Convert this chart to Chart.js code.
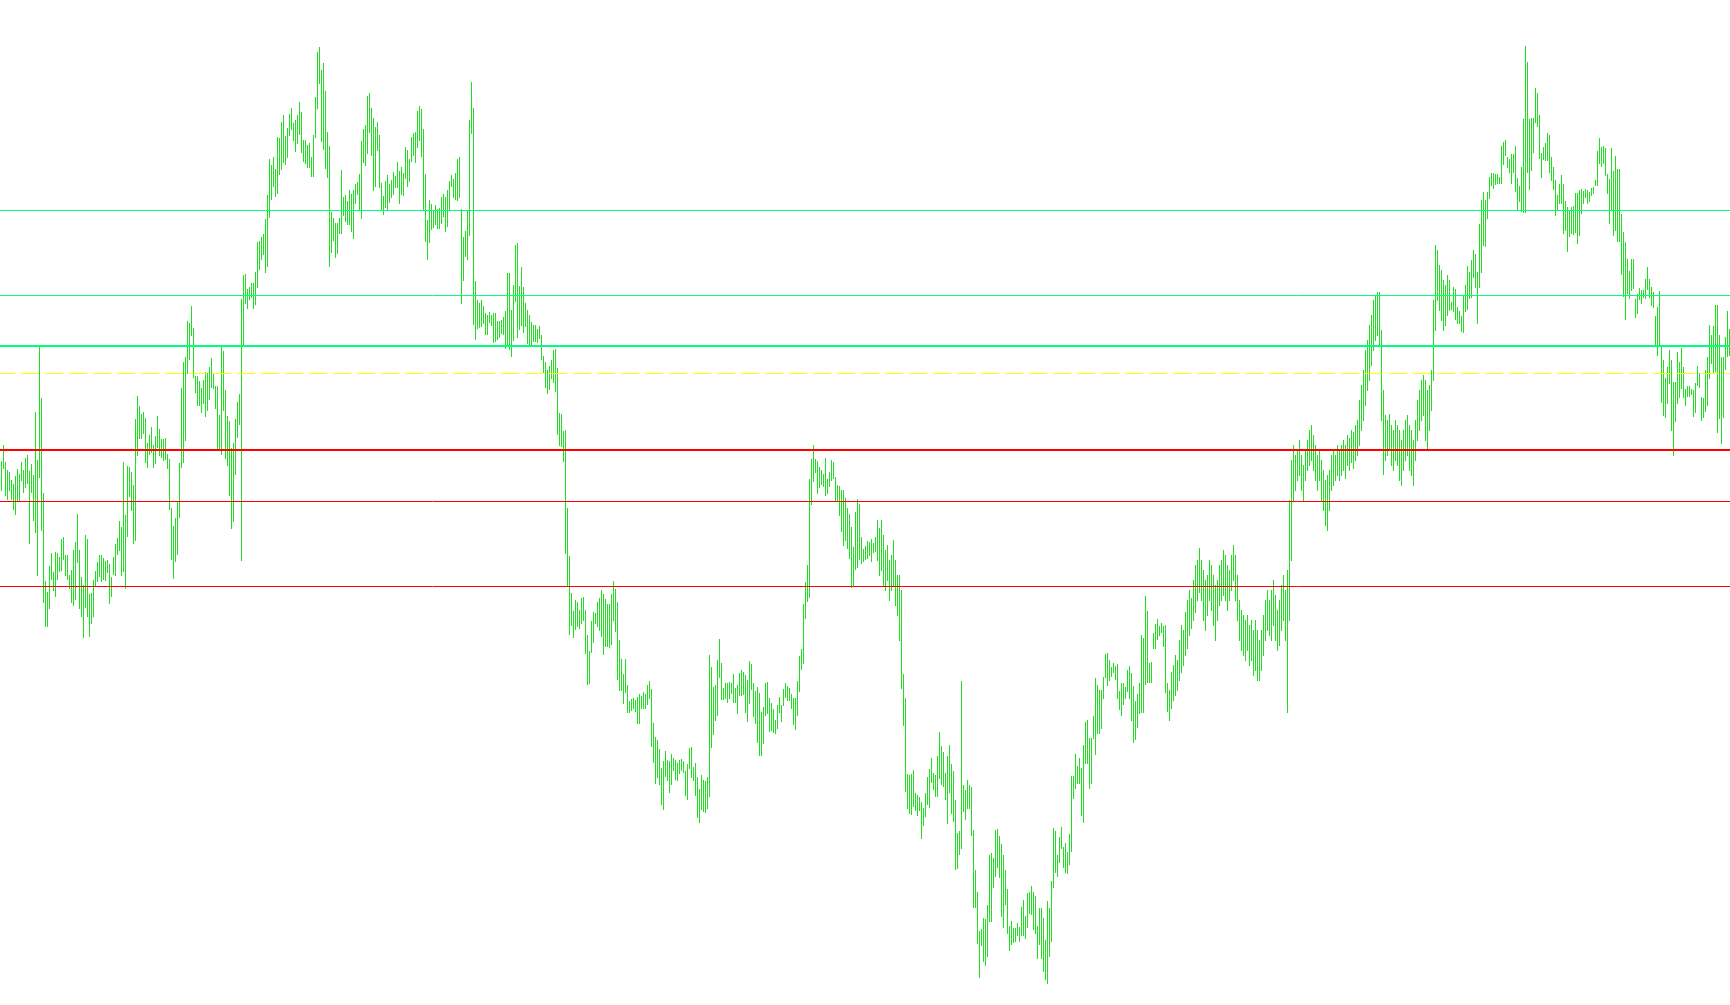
<!DOCTYPE html>
<html>
<head>
<meta charset="utf-8">
<title>Price bars with levels</title>
<script src="https://cdn.jsdelivr.net/npm/chart.js@4.4.1/dist/chart.umd.min.js"></script>
<style>
html,body{margin:0;padding:0;background:#ffffff;overflow:hidden}
#wrap{width:1730px;height:1005px;position:relative}
</style>
</head>
<body>
<div id="wrap"><canvas id="chart"></canvas></div>
<script>
// Bar highs (price points), one per bar
const highs = [
539,555,538,530,528,520,516,524,531,526,
538,530,542,545,529,536,525,588,540,653,
602,507,419,408,434,447,428,448,447,443,
461,463,445,445,425,430,450,458,486,450,
423,415,465,461,406,407,420,429,438,445,
445,442,439,440,436,423,443,456,462,479,
473,538,485,534,533,528,515,581,604,594,
586,588,582,557,565,573,555,564,584,571,
561,561,562,546,541,492,474,482,499,537,
612,638,643,679,677,694,672,624,624,619,
612,620,628,627,633,642,626,614,614,585,
653,649,610,584,579,552,557,581,598,606,
701,725,726,711,713,717,717,728,758,759,
763,766,781,805,841,835,843,831,863,862,
878,885,864,872,886,892,877,880,885,898,
888,860,860,855,857,843,865,903,948,953,
930,937,909,868,854,788,782,777,777,782,
830,803,805,799,810,806,810,816,818,826,
859,871,875,904,907,892,882,873,878,865,
817,804,819,825,816,820,828,824,838,829,
833,827,853,850,841,863,867,868,889,894,
891,871,826,780,800,796,790,795,791,792,
803,806,803,810,819,825,821,827,841,843,
791,763,769,790,880,918,892,719,700,697,
700,694,687,685,688,685,687,687,679,679,
680,683,689,727,727,690,715,755,757,714,
733,713,697,690,685,678,675,675,671,674,
665,644,638,630,634,640,650,651,632,587,
586,569,570,492,444,407,389,400,398,390,
402,403,390,365,349,379,388,387,398,402,
410,406,401,396,396,406,419,411,398,360,
341,326,341,315,299,301,302,300,303,306,
304,308,306,315,319,311,277,263,260,251,
232,239,249,240,239,246,242,240,237,240,
241,239,229,236,252,253,233,237,223,211,
225,220,219,223,345,333,313,315,340,361,
337,312,317,317,318,317,326,312,315,327,
330,328,325,320,339,336,317,309,313,307,
288,293,317,318,302,297,291,280,295,303,
295,311,317,314,312,306,302,302,319,344,
351,396,418,435,521,541,555,541,539,533,
530,526,542,521,528,540,538,523,515,514,
510,510,502,492,486,473,453,488,501,496,
463,451,454,459,458,461,457,463,480,472,
480,465,450,455,440,445,460,440,425,425,
410,326,302,226,225,226,230,207,205,203,
198,192,207,223,231,242,227,225,244,268,
254,248,227,244,255,236,229,200,167,169,
319,215,210,220,215,213,170,130,108,69,
71,82,81,95,145,147,142,170,171,164,
156,145,130,111,74,79,72,72,77,73,
93,100,84,107,108,114,108,104,74,92,
92,82,60,99,92,119,172,169,145,163,
173,153,157,148,166,224,224,246,234,242,
232,255,278,280,262,262,284,322,315,310,
310,323,346,347,340,333,337,334,336,309,
317,317,313,330,334,327,314,299,306,317,
365,362,404,389,337,338,367,376,381,374,
377,374,375,317,310,328,335,345,340,360,
375,370,388,400,410,402,420,435,440,452,
440,430,420,425,440,435,425,415,420,435,
440,450,445,435,430,445,455,445,425,400,
390,385,380,385,375,380,370,380,370,360,
370,385,400,410,400,410,420,405,390,400,
415,425,410,430,500,540,555,545,550,560,
545,535,550,560,570,575,565,555,545,550,
540,530,520,525,530,545,550,545,555,550,
555,560,555,565,562,570,568,575,580,600,
615,630,650,660,675,685,700,705,708,708,
670,610,585,580,586,575,570,580,575,570,
560,570,580,585,575,570,560,580,600,610,
620,625,620,610,615,630,700,755,750,735,
730,720,715,725,720,698,713,711,693,689,
684,705,715,734,728,740,750,746,728,776,
800,808,800,808,823,827,827,826,826,823,
854,858,860,843,841,846,846,854,822,814,
833,881,954,938,881,882,882,912,907,885,
847,853,857,867,865,843,833,820,805,816,
825,816,799,793,789,793,794,807,807,810,
811,809,811,810,808,812,813,820,849,862,
853,854,852,826,821,852,829,844,831,831,
786,768,758,741,729,741,741,701,706,712,
710,710,721,733,721,713,708,684,693,709,
655,640,622,633,650,640,618,618,648,638,
652,633,611,614,614,611,610,617,634,627,
603,602,630,643,675,665,674,695,695,665,
643,643,663,689,671
];

// Bar lows (price points), one per bar
const lows = [
509,531,504,500,509,500,490,485,498,498,
519,507,512,516,456,507,479,467,424,522,
469,397,373,373,391,420,409,403,420,428,
429,440,424,420,411,397,394,400,437,391,
383,362,392,383,363,376,383,414,418,423,
418,420,419,427,396,403,425,424,445,449,
424,428,411,463,503,489,456,459,544,561,
561,566,537,532,545,547,532,536,552,544,
542,539,540,531,490,440,421,438,445,482,
532,537,559,626,640,664,622,607,594,594,
587,596,583,589,600,612,611,591,550,550,
545,589,541,534,504,471,478,525,562,575,
439,653,696,691,700,702,691,695,712,730,
740,745,727,733,782,800,813,803,806,825,
830,837,835,842,864,870,859,848,856,865,
847,838,836,832,832,823,823,862,891,916,
858,850,831,822,733,747,759,742,746,766,
766,784,778,775,775,768,761,796,805,789,
781,837,834,846,867,844,809,813,849,812,
790,785,792,789,797,802,805,812,812,796,
805,804,821,813,818,838,844,837,852,859,
843,789,758,740,757,770,772,775,771,771,
776,783,768,773,789,813,802,800,799,802,
696,719,743,740,764,866,675,660,671,672,
673,676,665,665,677,674,657,658,660,662,
666,665,651,653,650,643,659,698,662,670,
674,667,673,656,655,653,658,658,657,661,
640,627,612,606,610,621,617,608,565,554,
553,538,446,413,365,374,362,370,373,371,
376,379,346,315,316,347,357,376,373,369,
363,345,353,353,352,355,379,368,320,309,
309,296,307,287,287,289,291,288,276,276,
291,291,291,295,301,253,237,216,222,215,
195,190,223,219,207,215,229,220,219,226,
229,227,204,200,231,222,219,204,182,177,
190,188,187,191,203,252,265,279,284,322,
300,300,301,297,301,306,297,297,286,304,
304,305,287,278,296,310,283,276,257,244,
244,256,284,286,268,269,267,266,271,287,
278,294,302,299,299,291,275,270,284,308,
330,336,381,398,402,495,518,527,506,512,
515,513,504,506,513,519,521,498,498,484,
468,454,459,451,441,412,413,430,432,440,
436,438,440,441,444,438,447,448,439,424,
429,414,409,419,399,409,414,394,384,359,
311,274,208,191,186,185,193,189,184,189,
161,174,183,195,192,217,210,203,203,221,
215,213,200,176,207,186,178,130,131,145,
151,188,180,191,191,164,92,92,56,22,
54,38,34,43,78,78,112,123,132,122,
83,72,95,66,49,55,57,58,64,58,
64,64,61,72,86,85,70,66,41,55,
41,28,20,16,43,58,112,127,123,137,
151,132,127,126,135,148,201,211,216,216,
184,177,236,236,211,216,261,245,266,266,
271,301,322,314,319,323,327,320,301,290,
284,295,301,308,301,279,257,260,272,286,
287,287,315,317,317,317,351,351,360,364,
367,353,307,288,279,291,299,304,309,319,
327,334,344,351,364,371,379,387,399,407,
399,379,369,384,399,389,374,359,379,394,
399,404,399,389,399,409,419,399,379,359,
349,344,339,349,334,339,324,329,319,319,
329,344,359,369,364,359,374,359,349,354,
369,379,359,287,379,439,499,509,519,524,
509,499,519,529,534,539,529,519,509,519,
499,489,474,469,489,509,514,519,524,519,
524,529,521,534,529,537,531,539,544,554,
569,579,594,609,619,634,649,659,664,654,
579,525,539,544,549,534,529,539,534,519,
514,529,539,544,529,524,514,539,559,569,
579,584,559,549,569,589,619,669,699,689,
679,669,674,684,689,690,688,680,676,676,
668,667,688,690,701,702,722,712,676,712,
727,754,753,781,801,814,811,815,816,816,
816,835,844,832,827,816,827,808,789,798,
788,787,787,827,810,829,847,877,873,841,
822,840,839,839,827,819,810,784,789,796,
796,766,769,748,763,766,765,767,756,764,
786,796,802,796,798,804,806,814,814,836,
833,836,824,806,776,789,764,769,758,758,
725,703,680,706,701,709,711,682,686,700,
696,702,701,710,702,694,692,654,644,654,
597,584,582,596,616,569,544,578,596,602,
611,602,594,603,603,605,583,587,614,612,
579,582,588,594,621,636,627,628,567,581,
556,582,630,643,644
];

// Horizontal levels (price points)
const resistanceLevels = [789.5, 704.5, 654];
const pivotLevel = 626.5;
const supportLevels = [550, 498.5, 413.5];

// ---- styles (kept separate from data) ----
const barColor = '#1fe01f';
const resistanceColor = '#00ff7f';
const pivotColor = '#ffff00';
const supportColor = '#ff0000';
const resistanceWidths = [1, 1, 2];
const supportWidths = [2, 1, 1];

const n = highs.length;
const xMin = -0.75;
const xMax = n - 0.75;

const barData = highs.map((h, i) => ({ x: i, y: [lows[i], h] }));

function levelSet(value, color, width, dash) {
  return {
    type: 'line',
    data: [{ x: xMin, y: value }, { x: xMax, y: value }],
    borderColor: color,
    borderWidth: width,
    borderDash: dash || [],
    borderDashOffset: 3,
    pointRadius: 0,
    pointHoverRadius: 0,
    pointBorderWidth: 0,
    fill: false,
    tension: 0,
    clip: false,
    order: 0
  };
}

const datasets = [];
resistanceLevels.forEach((v, k) => datasets.push(levelSet(v, resistanceColor, resistanceWidths[k])));
datasets.push(levelSet(pivotLevel, pivotColor, 1, [18, 6]));
supportLevels.forEach((v, k) => datasets.push(levelSet(v, supportColor, supportWidths[k])));
datasets.push({
  type: 'bar',
  data: barData,
  backgroundColor: barColor,
  borderWidth: 0,
  barThickness: 1,
  inflateAmount: 0,
  order: 1
});

new Chart(document.getElementById('chart'), {
  type: 'bar',
  data: { datasets },
  options: {
    responsive: true,
    maintainAspectRatio: false,
    animation: false,
    events: [],
    layout: { padding: 0, autoPadding: false },
    plugins: {
      legend: { display: false },
      tooltip: { enabled: false },
      title: { display: false }
    },
    scales: {
      x: { type: 'linear', min: xMin, max: xMax, offset: false, display: false },
      y: { type: 'linear', min: -5, max: 1000, display: false }
    }
  }
});
</script>
</body>
</html>
